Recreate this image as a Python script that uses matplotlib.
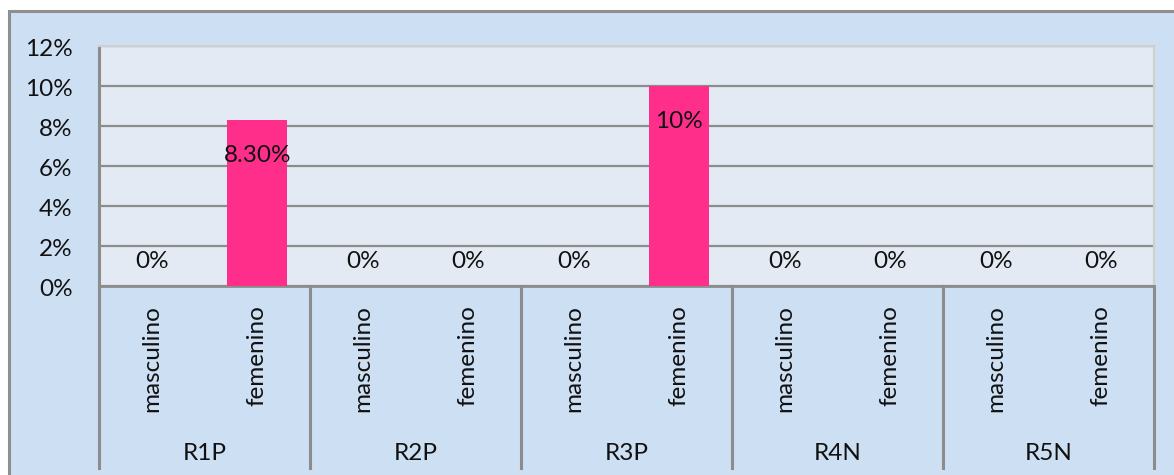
import matplotlib
matplotlib.use("Agg")
import matplotlib.pyplot as plt
from matplotlib.patches import Rectangle
from matplotlib.ticker import FuncFormatter
from matplotlib.transforms import blended_transform_factory, ScaledTranslation

plt.rcParams["font.family"] = ["Lato", "DejaVu Sans"]

# Data
groups = ["R1P", "R2P", "R3P", "R4N", "R5N"]
sexes = ["masculino", "femenino"]
values = [0.0, 8.3, 0.0, 0.0, 0.0, 10.0, 0.0, 0.0, 0.0, 0.0]
value_labels = ["0%", "8.30%", "0%", "0%", "0%", "10%", "0%", "0%", "0%", "0%"]
y_ticks = [0, 2, 4, 6, 8, 10, 12]

FS = 17.5

W, H = 1174, 475
fig = plt.figure(figsize=(W / 100, H / 100), dpi=100)
fig.patch.set_facecolor("white")

# Chart area panel with grey frame
fig.patches.append(Rectangle((9 / W, -0.05), 1.2, (H - 11) / H + 0.05,
                             transform=fig.transFigure, facecolor="#cddff3",
                             edgecolor="#8f8f8f", linewidth=2.2, zorder=-10))

left, right, top, bottom = 99, 1154, 46, 286
ax = fig.add_axes([left / W, (H - bottom) / H, (right - left) / W, (bottom - top) / H])
ax.set_zorder(1)
ax.set_facecolor("#e3eaf3")

n = len(values)
x = list(range(n))
ax.bar(x, values, width=0.57, color="#ff2e8b", zorder=3)

ax.set_xlim(-0.5, n - 0.5)
ax.set_ylim(0, 12)
ax.set_yticks(y_ticks)
ax.yaxis.set_major_formatter(FuncFormatter(lambda v, p: f"{v:.0f}%"))
ax.tick_params(axis="y", length=0, pad=19, labelsize=FS, labelcolor="#111111")
ax.tick_params(axis="x", length=0, labelbottom=False)
ax.grid(axis="y", color="#8c8c8c", linewidth=1.6, zorder=1)
ax.set_axisbelow(True)

for side in ("top", "right"):
    ax.spines[side].set_color("#cfcfcf")
    ax.spines[side].set_linewidth(1.6)
ax.spines["left"].set_color("#8c8c8c")
ax.spines["left"].set_linewidth(2.2)
ax.spines["bottom"].set_color("#8c8c8c")
ax.spines["bottom"].set_linewidth(2.0)

# nudge the percentage tick labels slightly below their gridlines
shift = ScaledTranslation(0, -4 / 100, fig.dpi_scale_trans)
for label in ax.get_yticklabels():
    label.set_verticalalignment("center")
    label.set_transform(label.get_transform() + shift)

# Value labels: inside the top of non-zero bars, just above the baseline otherwise
for xi, v, txt in zip(x, values, value_labels):
    ypos = v - 1.75 if v > 0 else 1.25
    ax.text(xi, ypos, txt, ha="center", va="center", fontsize=FS,
            color="#111111", zorder=4)

# Two-level category axis below the plot
trans = blended_transform_factory(ax.transData, ax.transAxes)
axis_h = bottom - top
line_bottom = -(468 - bottom) / axis_h
for g in range(len(groups) + 1):
    xb = g * len(sexes) - 0.5
    ax.plot([xb, xb], [0, line_bottom], transform=trans, color="#8c8c8c",
            linewidth=2.2, clip_on=False, zorder=5)

for gi, g in enumerate(groups):
    for si, s in enumerate(sexes):
        xi = gi * len(sexes) + si
        ax.text(xi, -(305 - bottom) / axis_h, s, transform=trans, rotation=90,
                ha="center", va="top", fontsize=FS, color="#111111")
    ax.text(gi * len(sexes) + 0.5, -(453 - bottom) / axis_h, g, transform=trans,
            ha="center", va="center", fontsize=FS, color="#111111")

fig.savefig("out.png", dpi=100)
